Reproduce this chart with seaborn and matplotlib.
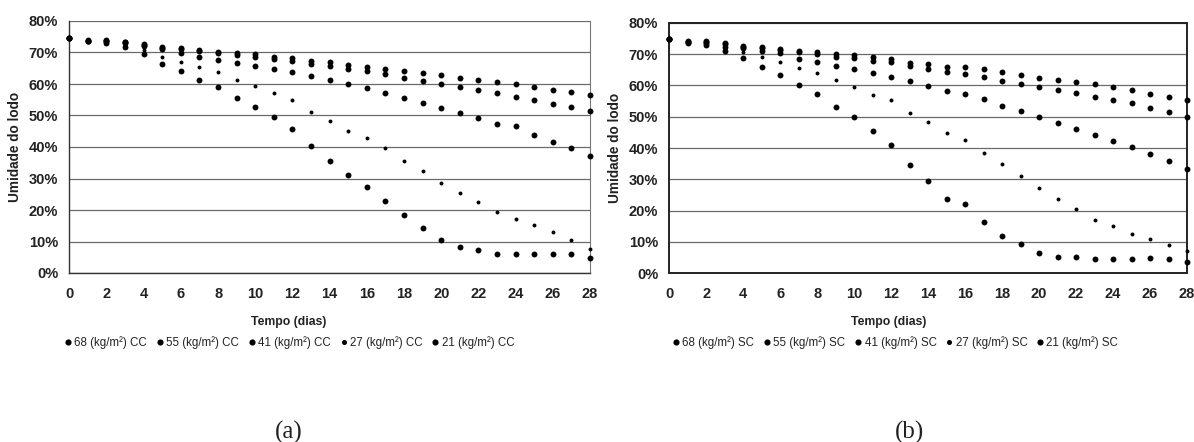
import matplotlib
matplotlib.use("Agg")
import matplotlib.pyplot as plt
from matplotlib.ticker import MultipleLocator, FuncFormatter
from matplotlib.lines import Line2D
import seaborn as sns
import pandas as pd

sns.set_style("white")
plt.rcParams["font.family"] = ["Liberation Sans", "DejaVu Sans"]

# Drying time (days)
dias = list(range(0, 29))

# Sludge moisture (%) - with cover (CC)
cc_68 = [74.5, 74.0, 74.0, 73.4, 72.6, 71.8, 71.5, 70.8, 70.1, 69.7, 69.4, 68.7, 68.4, 67.3, 66.9,
         66.0, 65.5, 64.8, 64.1, 63.6, 62.9, 62.0, 61.3, 60.7, 59.9, 59.1, 58.1, 57.4, 56.5]
cc_55 = [74.5, 73.8, 73.8, 73.2, 72.3, 71.4, 71.2, 70.5, 69.8, 69.2, 68.7, 67.9, 67.3, 66.3, 65.7,
         64.8, 64.1, 63.2, 62.0, 61.0, 60.0, 59.1, 58.1, 57.0, 56.0, 54.9, 53.7, 52.6, 51.4]
cc_41 = [74.5, 73.8, 73.5, 73.0, 72.2, 71.0, 69.9, 68.7, 67.6, 66.6, 65.8, 64.8, 63.9, 62.5, 61.3,
         59.9, 58.6, 57.2, 55.7, 54.1, 52.5, 50.9, 49.3, 47.3, 46.7, 43.8, 41.7, 39.6, 37.2]
cc_27 = [74.5, 73.8, 73.2, 72.5, 70.8, 68.7, 67.1, 65.5, 63.9, 61.3, 59.4, 57.0, 54.9, 51.2, 48.3,
         45.2, 42.8, 39.8, 35.7, 32.4, 28.5, 25.3, 22.6, 19.5, 17.2, 15.2, 13.0, 10.5, 7.6]
cc_21 = [74.5, 73.6, 73.0, 71.8, 69.4, 66.3, 64.1, 61.3, 59.1, 55.5, 52.6, 49.4, 45.6, 40.4, 35.7,
         31.1, 27.4, 22.9, 18.4, 14.2, 10.5, 8.2, 7.3, 6.0, 6.0, 6.0, 6.0, 6.0, 4.9]

# Sludge moisture (%) - without cover (SC)
sc_68 = [74.8, 74.0, 74.0, 73.5, 72.6, 72.2, 71.6, 71.0, 70.6, 70.0, 69.7, 69.0, 68.5, 67.1, 66.8,
         66.0, 65.7, 65.2, 64.2, 63.4, 62.5, 61.8, 61.2, 60.4, 59.4, 58.6, 57.3, 56.4, 55.4]
sc_55 = [74.8, 73.9, 73.8, 73.3, 72.3, 71.8, 71.2, 70.5, 70.0, 69.2, 68.6, 67.9, 67.3, 66.3, 65.2,
         64.4, 63.6, 62.6, 61.5, 60.5, 59.4, 58.6, 57.7, 56.4, 55.4, 54.3, 52.9, 51.6, 50.0]
sc_41 = [74.8, 73.8, 73.5, 72.4, 71.9, 71.1, 70.3, 68.5, 67.6, 66.3, 65.3, 64.1, 62.8, 61.4, 59.9,
         58.3, 57.2, 55.7, 53.5, 51.9, 49.8, 47.9, 46.1, 44.2, 42.3, 40.4, 38.1, 36.0, 33.2]
sc_27 = [74.8, 73.7, 73.2, 72.0, 70.5, 69.0, 67.3, 65.5, 64.1, 61.8, 59.4, 57.0, 55.4, 51.1, 48.4,
         44.9, 42.6, 38.5, 34.9, 31.2, 27.2, 23.6, 20.4, 17.0, 15.1, 12.5, 10.9, 9.0, 7.0]
sc_21 = [74.8, 73.6, 72.9, 71.0, 68.7, 65.7, 63.4, 60.2, 57.3, 53.0, 49.8, 45.5, 41.0, 34.6, 29.6,
         23.6, 22.0, 16.3, 11.9, 9.4, 6.4, 5.1, 5.1, 4.6, 4.6, 4.6, 4.9, 4.6, 3.6]

cargas = ["68", "55", "41", "27", "21"]
series_cc = [cc_68, cc_55, cc_41, cc_27, cc_21]
series_sc = [sc_68, sc_55, sc_41, sc_27, sc_21]
tamanhos = {"68": 18, "55": 18, "41": 18, "27": 8, "21": 18}

W, H = 1194, 442
fig = plt.figure(figsize=(W / 100, H / 100), dpi=100)
ax_a = fig.add_axes([69.3 / W, 1 - 273 / H, (590 - 69.3) / W, (273 - 21) / H])
ax_b = fig.add_axes([669.3 / W, 1 - 273.3 / H, (1187 - 669.3) / W, (273.3 - 22.7) / H])


def painel(ax, series, sufixo, label_x, legend_x, letra_x, letra):
    for carga, valores in zip(cargas, series):
        df = pd.DataFrame({"dia": dias, "umidade": valores})
        sns.scatterplot(data=df, x="dia", y="umidade", ax=ax, color="black",
                        s=tamanhos[carga], linewidth=0, clip_on=False, zorder=3,
                        legend=False)
    ax.set_xlim(0, 28)
    ax.set_ylim(0, 80)
    ax.xaxis.set_major_locator(MultipleLocator(2))
    ax.xaxis.set_minor_locator(MultipleLocator(1))
    ax.yaxis.set_major_locator(MultipleLocator(10))
    ax.yaxis.set_minor_locator(MultipleLocator(5))
    ax.yaxis.set_major_formatter(FuncFormatter(lambda v, p: f"{v:.0f}%"))
    ax.grid(axis="y", which="major", color="#6a6a6a", linewidth=0.9, zorder=1)
    ax.set_axisbelow(True)
    ax.tick_params(axis="x", which="major", direction="inout", length=4, width=0.8,
                   pad=8, labelsize=10.5, colors="#222222")
    ax.tick_params(axis="x", which="minor", direction="inout", length=3, width=0.6)
    ax.tick_params(axis="y", which="major", direction="in", length=0, pad=8, labelsize=10.5,
                   colors="#222222")
    ax.tick_params(axis="y", which="minor", direction="in", length=3, width=0.6)
    for lab in ax.get_xticklabels() + ax.get_yticklabels():
        lab.set_fontweight("bold")
    ax.set_xlabel("Tempo (dias)", fontsize=8.8, fontweight="bold", color="#222222")
    ax.set_ylabel("Umidade do lodo", fontsize=9.8, fontweight="bold", color="#222222",
                  labelpad=5)
    ax.xaxis.set_label_coords(label_x, -0.17)

    handles = [Line2D([], [], linestyle="none", marker="o", color="black",
                      markersize=(2.6 if c == "27" else 3.4))
               for c in cargas]
    labels = [f"{c} (kg/m²) {sufixo}" for c in cargas]
    fig.legend(handles, labels, loc="center", bbox_to_anchor=(legend_x / W, 1 - 343 / H),
               ncol=5, frameon=False, fontsize=8.3, handlelength=0.4, handletextpad=0.35,
               columnspacing=0.9, labelcolor="#222222")
    fig.text(letra_x / W, 1 - 432 / H, letra, ha="center", va="center", fontsize=18,
             family="Liberation Serif", color="#222222")


painel(ax_a, series_cc, "CC", (289 - 69.3) / (590 - 69.3), 290, 289, "(a)")
painel(ax_b, series_sc, "SC", (889 - 669.3) / (1187 - 669.3), 896, 910, "(b)")

# Panel (a): open top, thin right edge
ax_a.spines["top"].set_visible(False)
ax_a.spines["right"].set_color("#777777")
ax_a.spines["right"].set_linewidth(0.8)
for side in ("left", "bottom"):
    ax_a.spines[side].set_color("#333333")
    ax_a.spines[side].set_linewidth(1.0)

# Panel (b): full dark frame
for side in ("left", "bottom", "top", "right"):
    ax_b.spines[side].set_color("#222222")
    ax_b.spines[side].set_linewidth(1.4)

fig.savefig("out.png", dpi=100, facecolor="white")
